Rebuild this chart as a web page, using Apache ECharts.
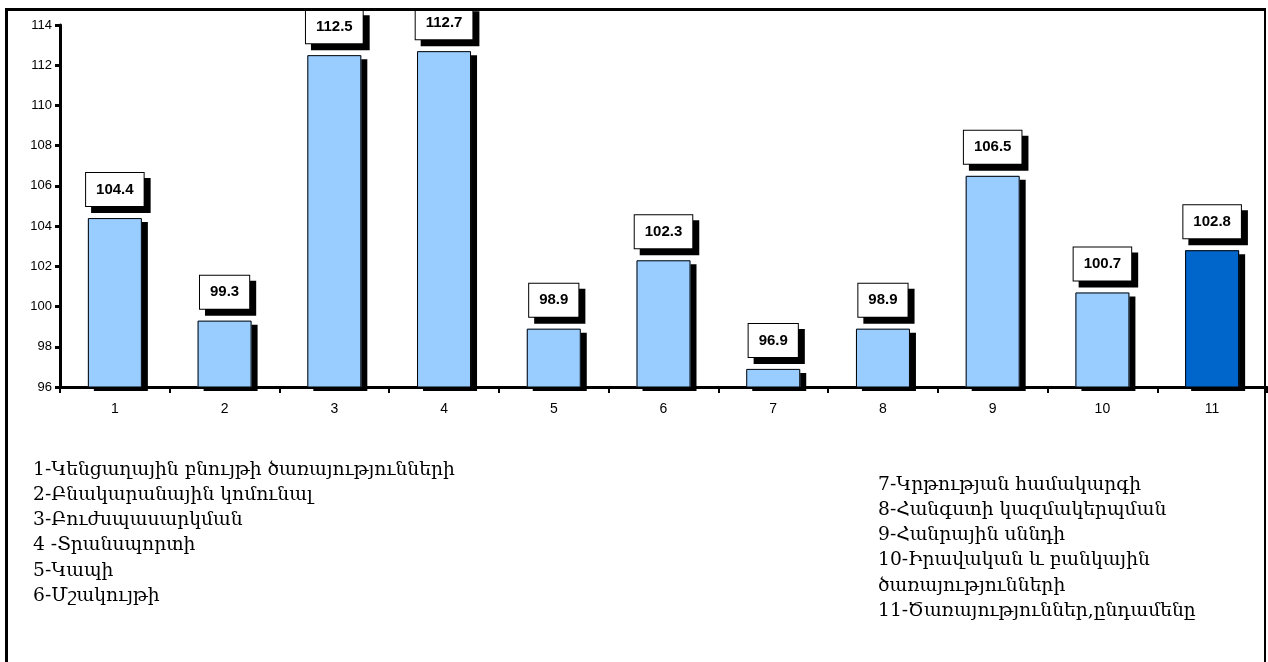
<!DOCTYPE html>
<html>
<head>
<meta charset="utf-8">
<script src="https://cdn.jsdelivr.net/npm/echarts@6/dist/echarts.min.js"></script>
<style>
html,body{margin:0;padding:0;background:#fff;}
#chart{width:1268px;height:662px;}
</style>
</head>
<body>
<div id="chart"></div>
<script>
const categories = ['1','2','3','4','5','6','7','8','9','10','11'];
const values = [104.4, 99.3, 112.5, 112.7, 98.9, 102.3, 96.9, 98.9, 106.5, 100.7, 102.8];
const highlightIndex = 10; // "11 - total" bar
const legendLeft = [
  '1-Կենցաղային բնույթի ծառայությունների',
  '2-Բնակարանային կոմունալ',
  '3-Բուժսպասարկման',
  '4 -Տրանսպորտի',
  '5-Կապի',
  '6-Մշակույթի'
];
const legendRight = [
  '7-Կրթության համակարգի',
  '8-Հանգստի կազմակերպման',
  '9-Հանրային սննդի',
  '10-Իրավական և բանկային',
  'ծառայությունների',
  '11-Ծառայություններ,ընդամենը'
];

const chart = echarts.init(document.getElementById('chart'));
const serif = '"DejaVu Serif", "Liberation Serif", serif';
chart.setOption({
  animation: false,
  backgroundColor: '#fff',
  grid: {left: 60, top: 25, width: 1207, height: 362, containLabel: false},
  xAxis: {
    type: 'category',
    data: categories,
    axisLine: {lineStyle: {color: '#000', width: 3}},
    axisTick: {show: true, alignWithLabel: false, length: 6, lineStyle: {color: '#000', width: 2}},
    axisLabel: {color: '#000', fontSize: 14, fontFamily: 'Arial, "Liberation Sans"', margin: 15},
    splitLine: {show: false}
  },
  yAxis: {
    type: 'value',
    min: 96, max: 114, interval: 2,
    axisLine: {show: true, lineStyle: {color: '#000', width: 3}},
    axisTick: {show: true, length: 5, lineStyle: {color: '#000', width: 3}},
    axisLabel: {color: '#000', fontSize: 13, fontFamily: 'Arial, "Liberation Sans"', margin: 8},
    splitLine: {show: false}
  },
  series: [{
    type: 'bar',
    barWidth: 54,
    z: 2,
    data: values.map((v, i) => ({
      value: v,
      itemStyle: {color: i === highlightIndex ? '#0066CC' : '#99CCFF'}
    })),
    itemStyle: {
      borderWidth: 0,
      shadowColor: '#000', shadowBlur: 0, shadowOffsetX: 6, shadowOffsetY: 4
    }
  }, {
    type: 'bar',
    barWidth: 54,
    barGap: '-100%',
    z: 3,
    data: values,
    itemStyle: {color: 'rgba(0,0,0,0)', borderColor: '#000', borderWidth: 1},
    label: {
      show: true,
      position: 'top',
      distance: 12,
      formatter: p => p.value.toFixed(1),
      color: '#000',
      fontSize: 15,
      fontWeight: 'bold',
      fontFamily: 'Arial, "Liberation Sans"',
      backgroundColor: '#fff',
      borderColor: '#000',
      borderWidth: 1,
      padding: [8, 10],
      lineHeight: 17,
      shadowColor: '#000', shadowBlur: 0, shadowOffsetX: 6, shadowOffsetY: 6
    }
  }],
  graphic: [
    {type: 'rect', shape: {x: 0, y: 0, width: 1268, height: 8}, style: {fill: '#fff'}, z: 100},
    {type: 'line', shape: {x1: 5, y1: 9.5, x2: 1266, y2: 9.5}, style: {stroke: '#000', lineWidth: 3}, z: 101},
    {type: 'line', shape: {x1: 6.5, y1: 8, x2: 6.5, y2: 662}, style: {stroke: '#000', lineWidth: 3}, z: 101},
    {type: 'line', shape: {x1: 1265, y1: 8, x2: 1265, y2: 662}, style: {stroke: '#000', lineWidth: 2}, z: 101},
    {type: 'text', left: 33, top: 457, style: {text: legendLeft.join('\n'), font: '18.7px ' + serif, lineHeight: 25.3, fill: '#000'}},
    {type: 'text', left: 878, top: 472, style: {text: legendRight.join('\n'), font: '18.7px ' + serif, lineHeight: 25.3, fill: '#000'}}
  ]
});
</script>
</body>
</html>
